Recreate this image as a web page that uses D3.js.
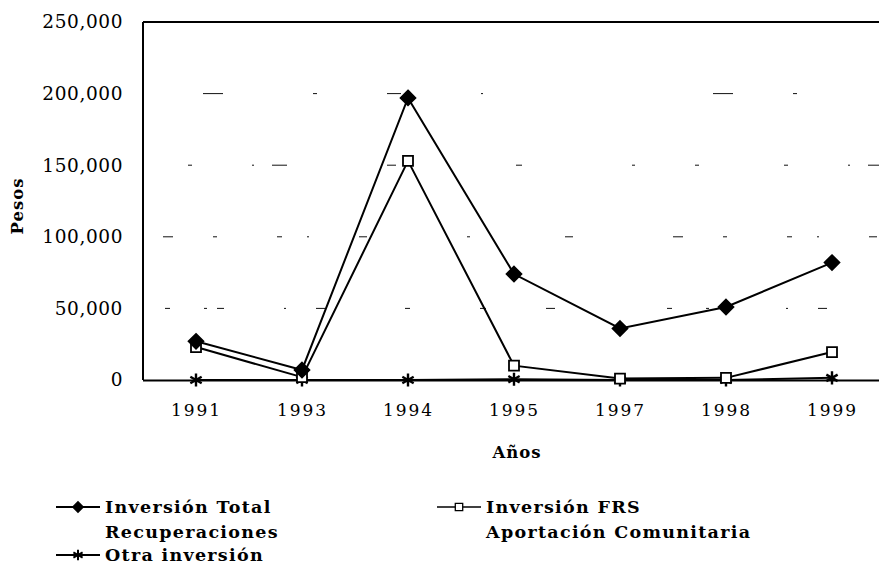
<!DOCTYPE html>
<html><head><meta charset="utf-8">
<script src="https://cdn.jsdelivr.net/npm/d3@7"></script>
<style>body{margin:0;background:#fff}svg{display:block}</style>
</head><body><svg id="c" width="879" height="568"></svg>
<script>
const years = ["1991","1993","1994","1995","1997","1998","1999"];
const totalRecuperaciones = [27000, 7000, 197000, 74000, 36000, 51000, 82000];
const frsComunitaria = [23000, 2000, 153000, 10000, 1000, 1500, 19500];
const otraInversion = [0, 0, 0, 500, 0, 0, 1500];
const yTicks = [0, 50000, 100000, 150000, 200000, 250000];
const seriesNames = [["Inversión Total","Recuperaciones"],["Inversión FRS","Aportación Comunitaria"],["Otra inversión"]];

const svg = d3.select("#c");
const L = 143, R = 885, T = 22, B = 380;
const x = d3.scalePoint().domain(years).range([L, R]).padding(0.5);
const y = d3.scaleLinear().domain([0, 250000]).range([B, T]);
const serif = "'DejaVu Serif', 'Liberation Serif', serif";

// gridlines (broken, scan-like)
svg.append("g").selectAll("line").data(yTicks.filter(d => d > 0 && d < 250000)).join("line")
  .attr("x1", L).attr("x2", 879).attr("y1", d => y(d)).attr("y2", d => y(d))
  .attr("stroke", "#111").attr("stroke-width", 1)
  .attr("stroke-dasharray", (d,i) => [
    "0,22,5,34,3,10,7,60,2,30,9,80,5,70,6,60,9,90",
    "0,20,10,40,4,60,5,25,2,50,8,100,3,95,8,80",
    "0,45,4,60,2,18,15,100,9,120,6,110,3,60,4,40",
    "0,60,20,90,4,70,14,80,2,230,20,60,4,30"][i]);

// frame
svg.append("line").attr("x1", L).attr("x2", 879).attr("y1", T).attr("y2", T).attr("stroke", "#000").attr("stroke-width", 2);
svg.append("line").attr("x1", L).attr("x2", L).attr("y1", T).attr("y2", B).attr("stroke", "#000").attr("stroke-width", 2);

// axes
const yAxis = svg.append("g").attr("transform", `translate(${L},0)`)
  .call(d3.axisLeft(y).tickValues(yTicks).tickFormat(d3.format(",")).tickSize(0).tickPadding(20));
yAxis.select(".domain").remove();
yAxis.selectAll("text").attr("font-family", serif).attr("font-size", 18.5).attr("letter-spacing", 0.6).attr("fill", "#000");

const xAxis = svg.append("g").attr("transform", `translate(0,${B})`)
  .call(d3.axisBottom(x).tickSize(0).tickPadding(24));
xAxis.select(".domain").attr("d", `M${L},0.5H879`).attr("stroke-width", 2);
xAxis.selectAll("text").attr("font-family", serif).attr("font-size", 17).attr("letter-spacing", 2).attr("fill", "#000");

// axis titles
svg.append("text").attr("transform", `translate(23,${(T+B)/2 + 5}) rotate(-90)`).attr("text-anchor", "middle")
  .attr("font-family", serif).attr("font-weight", "bold").attr("font-size", 16.5).attr("letter-spacing", 1).text("Pesos");
svg.append("text").attr("x", 517).attr("y", 458).attr("text-anchor", "middle")
  .attr("font-family", serif).attr("font-weight", "bold").attr("font-size", 16.5).attr("letter-spacing", 1).text("Años");

const line = d3.line().x((d,i) => x(years[i])).y(d => y(d));
const diamond = {draw(ctx, size) { const r = Math.sqrt(size / 2); ctx.moveTo(0, -r); ctx.lineTo(r, 0); ctx.lineTo(0, r); ctx.lineTo(-r, 0); ctx.closePath(); }};
const data = [
  {vals: totalRecuperaciones, sym: diamond, size: 110, fill: "#000"},
  {vals: frsComunitaria, sym: d3.symbolSquare, size: 100, fill: "#fff"},
  {vals: otraInversion, sym: d3.symbolAsterisk, size: 120, fill: "none"}
];
[2,1,0].forEach(k => {
  const s = data[k];
  svg.append("path").attr("d", line(s.vals)).attr("fill", "none").attr("stroke", "#000").attr("stroke-width", 2);
});
[2,1,0].forEach(k => {
  const s = data[k];
  svg.append("g").selectAll("path").data(s.vals).join("path")
    .attr("transform", (d,i) => `translate(${x(years[i])},${y(d)})`)
    .attr("d", d3.symbol().type(s.sym).size(s.size))
    .attr("fill", s.fill).attr("stroke", "#000").attr("stroke-width", k === 2 ? 2.4 : 1.8);
});

// legend
const legPos = [[56, 507], [437, 507], [56, 555]];
data.forEach((s, k) => {
  const [lx, ly] = legPos[k];
  const g = svg.append("g");
  g.append("line").attr("x1", lx).attr("x2", lx + 44).attr("y1", ly).attr("y2", ly).attr("stroke", "#000").attr("stroke-width", k === 1 ? 1.3 : 2);
  g.append("path").attr("transform", `translate(${lx + 22},${ly})`)
    .attr("d", d3.symbol().type(s.sym).size(k === 2 ? 80 : 55))
    .attr("fill", s.fill).attr("stroke", "#000").attr("stroke-width", k === 2 ? 2 : 1.3);
  seriesNames[k].forEach((t, j) => {
    g.append("text").attr("x", lx + 49).attr("y", ly + 6 + j * 24.5)
      .attr("font-family", serif).attr("font-weight", "bold").attr("font-size", 17.5).attr("letter-spacing", 1.3).text(t);
  });
});
</script></body></html>
